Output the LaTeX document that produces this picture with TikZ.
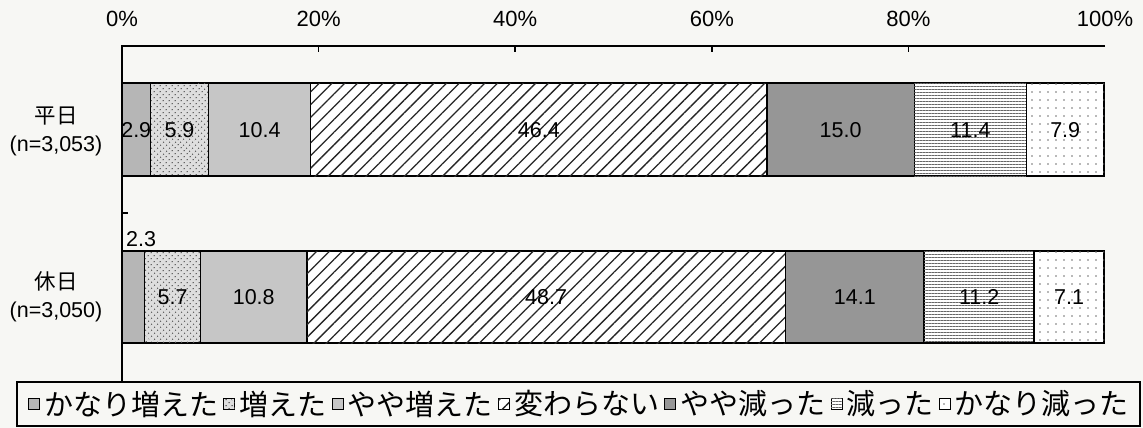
\documentclass[tikz,border=0pt]{standalone}
\usepackage{fontspec}
\setmainfont{Liberation Sans}
\newfontfamily\jp{Noto Sans CJK JP}
\usetikzlibrary{patterns.meta,positioning}
\definecolor{bg}{RGB}{247,247,244}
\definecolor{gA}{RGB}{182,182,182}
\definecolor{gB}{RGB}{222,222,222}
\definecolor{gC}{RGB}{198,198,198}
\definecolor{gE}{RGB}{150,150,150}
\begin{document}
\begin{tikzpicture}[x=1pt,y=-1pt,
  pA/.style={fill=gA},
  pB/.style={fill=gB,postaction={pattern={Dots[distance=4pt,radius=0.8pt,angle=45]},pattern color=black!65}},
  pC/.style={fill=gC},
  pD/.style={fill=white,postaction={pattern={Lines[angle=45,distance=9pt,line width=1.3pt]},pattern color=black!85}},
  pE/.style={fill=gE},
  pF/.style={fill=white,postaction={pattern={Lines[angle=0,distance=3pt,line width=0.9pt]},pattern color=black!60}},
  pG/.style={fill=white,postaction={pattern={Dots[distance=8pt,radius=0.9pt]},pattern color=black!55}},
  segline/.style={draw=black,line width=1.5pt},
  val/.style={font=\fontsize{21.5}{24}\selectfont,inner sep=0pt},
  axlab/.style={font=\fontsize{22}{24}\selectfont,inner sep=0pt},
  catlab/.style={align=center,font=\fontsize{21.5}{28}\selectfont,inner sep=0pt},
  lsq/.style={draw=black,line width=0.9pt,minimum width=11pt,minimum height=11pt,inner sep=0pt},
  ltx/.style={font=\jp\fontsize{29}{31}\selectfont,inner sep=0pt}
]
\useasboundingbox (0,0) rectangle (1143,428);
\fill[bg] (0,0) rectangle (1143,428);

% bars
\foreach \a/\b/\st/\lab in {0/2.9/pA/2.9, 2.9/8.8/pB/5.9, 8.8/19.2/pC/10.4, 19.2/65.6/pD/46.4, 65.6/80.6/pE/15.0, 80.6/92.0/pF/11.4, 92.0/99.9/pG/7.9}{
  \path[segline,\st] ({122+9.83*\a},83) rectangle ({122+9.83*\b},176);
  \node[val] at ({122+9.83*(\a+\b)/2},130) {\lab};
}
\foreach \a/\b/\st/\lab in {0/2.3/pA/{}, 2.3/8.0/pB/5.7, 8.0/18.8/pC/10.8, 18.8/67.5/pD/48.7, 67.5/81.6/pE/14.1, 81.6/92.8/pF/11.2, 92.8/99.9/pG/7.1}{
  \path[segline,\st] ({122+9.83*\a},251) rectangle ({122+9.83*\b},343);
  \node[val] at ({122+9.83*(\a+\b)/2},297) {\lab};
}
\node[val,anchor=west] (v23) at (126,239) {2.3};

% axes
\coordinate (o) at (122,46);
\coordinate (tr) at (1105,46);
\coordinate (ob) at (122,382);
\draw[line width=1.5pt] (tr) -- (o) -- (ob);
\foreach \p in {20,40,60,80}{
  \draw[line width=1.5pt] ({122+9.83*\p},46) -- ({122+9.83*\p},52);
}
\draw[line width=1.5pt] (122,213) -- (128,213);
\foreach \p in {0,20,40,60,80,100}{
  \node[axlab] (ax\p) at ({122+9.83*\p},19) {\p\%};
}

% category labels
\node[catlab] (c1) at (56,131) {{\jp 平日}\\(n=3,053)};
\node[catlab] (c2) at (56,297) {{\jp 休日}\\(n=3,050)};

% legend
\draw[line width=1.5pt] (17,382) rectangle (1140,426);
\node[lsq,pA] (k1) at (34,404) {};
\node[ltx,right=4pt of k1] (t1) {かなり増えた};
\node[lsq,pB,right=5pt of t1] (k2) {};
\node[ltx,right=4pt of k2] (t2) {増えた};
\node[lsq,pC,right=5pt of t2] (k3) {};
\node[ltx,right=4pt of k3] (t3) {やや増えた};
\node[lsq,pD,right=5pt of t3] (k4) {};
\node[ltx,right=4pt of k4] (t4) {変わらない};
\node[lsq,pE,right=5pt of t4] (k5) {};
\node[ltx,right=4pt of k5] (t5) {やや減った};
\node[lsq,pF,right=5pt of t5] (k6) {};
\node[ltx,right=4pt of k6] (t6) {減った};
\node[lsq,pG,right=5pt of t6] (k7) {};
\node[ltx,right=4pt of k7] (t7) {かなり減った};
\end{tikzpicture}
\end{document}
